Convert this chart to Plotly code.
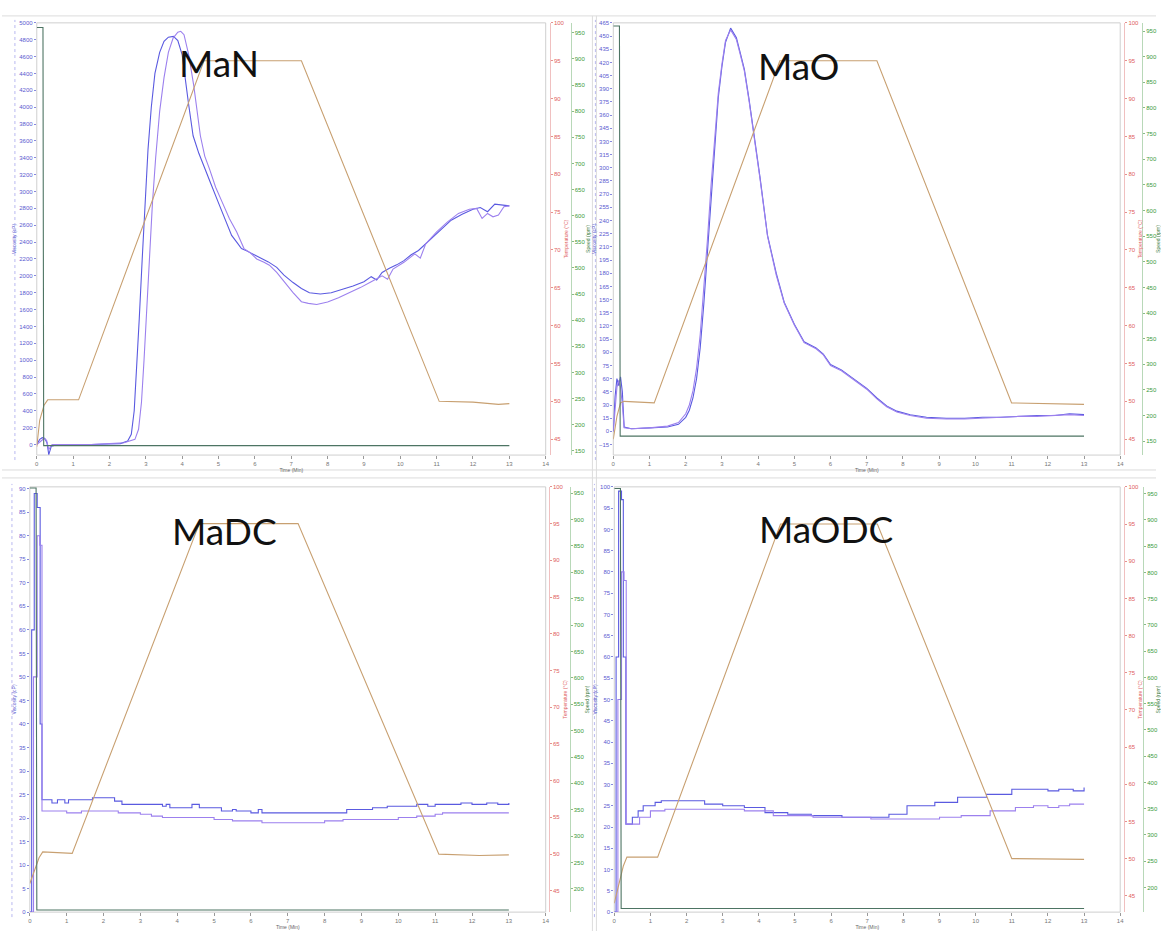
import plotly.graph_objects as go

# ---------------------------------------------------------------- data
# Time axis ticks (min)
time_ticks = list(range(0, 15))

# MaN: two viscosity runs (cP), temperature (degC), paddle speed (rpm)
man_time_a = [0, 0.08, 0.15, 0.22, 0.28, 0.33, 0.4, 0.6, 1.5, 2.3, 2.5, 2.6, 2.68, 2.75, 2.82, 2.9,
              2.98, 3.06, 3.15, 3.25, 3.38, 3.5, 3.62, 3.76, 3.88, 4.0, 4.17, 4.3, 4.46, 4.62, 4.8,
              4.99, 5.18, 5.36, 5.5, 5.63, 5.8, 6.0, 6.2, 6.37, 6.6, 6.8, 7.05, 7.28, 7.5, 7.8, 8.1,
              8.4, 8.7, 9.0, 9.2, 9.35, 9.5, 9.7, 9.9, 10.1, 10.3, 10.5, 10.8, 11.1, 11.4, 11.7,
              12.0, 12.2, 12.4, 12.6, 12.8, 13.0]
man_visc_a = [0, 60, 80, 70, 20, -120, -20, 0, 0, 10, 40, 120, 400, 900, 1500, 2200,
              2900, 3500, 4000, 4400, 4650, 4780, 4830, 4840, 4790, 4620, 4055, 3661, 3450, 3268, 3080,
              2874, 2680, 2480, 2400, 2323, 2290, 2244, 2200, 2165, 2100, 2008, 1920, 1850, 1800, 1785, 1800,
              1840, 1880, 1930, 1990, 1950, 2040, 2090, 2130, 2180, 2250, 2300, 2420, 2540, 2660, 2730,
              2790, 2810, 2760, 2850, 2840, 2830]
man_time_b = [0, 0.1, 0.2, 0.27, 0.33, 0.42, 0.6, 1.5, 2.4, 2.7, 2.8, 2.88, 2.95, 3.02, 3.1, 3.18,
              3.27, 3.38, 3.5, 3.62, 3.75, 3.88, 3.96, 4.05, 4.18, 4.32, 4.5, 4.62, 4.75, 4.92, 5.1,
              5.3, 5.5, 5.7, 5.88, 6.05, 6.25, 6.4, 6.6, 6.8, 7.05, 7.28, 7.47, 7.7, 8.0, 8.3, 8.6,
              8.9, 9.2, 9.5, 9.65, 9.8, 10.1, 10.4, 10.55, 10.7, 11.0, 11.3, 11.6, 11.9, 12.1, 12.25,
              12.4, 12.55, 12.7, 12.85, 13.0]
man_visc_b = [0, 40, 70, 50, -60, 0, 0, 0, 20, 60, 180, 500, 1000, 1600, 2250, 2850,
              3400, 3950, 4350, 4650, 4820, 4890, 4900, 4860, 4620, 4250, 3661, 3420, 3268, 3050, 2874,
              2677, 2520, 2323, 2270, 2200, 2160, 2126, 2040, 1929, 1800, 1693, 1673, 1660, 1690, 1740, 1800,
              1860, 1930, 2000, 1960, 2080, 2160, 2260, 2210, 2380, 2520, 2640, 2740, 2790, 2800, 2680,
              2740, 2700, 2720, 2820, 2830]
man_temp_time = [0, 0.08, 0.2, 0.3, 1.15, 4.6, 7.28, 11.07, 12.0, 12.7, 13.0]
man_temp = [44, 47.5, 49.5, 50.2, 50.2, 95, 95, 50, 49.9, 49.6, 49.7]

# MaO
mao_time = [0, 0.05, 0.1, 0.15, 0.2, 0.25, 0.3, 0.5, 1.0, 1.5, 1.8, 2.0, 2.1, 2.2, 2.3, 2.4, 2.5,
            2.6, 2.7, 2.8, 2.9, 3.0, 3.1, 3.24, 3.4, 3.5, 3.62, 3.75, 3.9, 4.05, 4.26, 4.5, 4.72,
            5.0, 5.27, 5.6, 5.8, 6.0, 6.3, 6.65, 7.0, 7.28, 7.55, 7.83, 8.2, 8.65, 9.2, 9.7, 10.2,
            10.7, 11.2, 11.7, 12.2, 12.6, 13.0]
mao_visc_a = [0, 40, 60, 52, 62, 45, 5, 3, 4, 5, 8, 16, 24, 38, 60, 95, 145,
              205, 270, 330, 380, 415, 443, 459, 448, 432, 412, 378, 336, 290, 223, 180, 147,
              122, 102, 95, 88, 76, 70, 60, 49, 38, 29, 23, 19, 16, 15, 15, 16,
              16, 17, 18, 18, 20, 19]
mao_visc_b = [0, 30, 50, 58, 50, 30, 4, 3, 4, 6, 10, 20, 30, 46, 72, 110, 160,
              218, 280, 338, 385, 418, 445, 457, 446, 430, 410, 376, 334, 288, 222, 178, 146,
              121, 101, 94, 87, 75, 69, 59, 48, 37, 28, 22, 18, 15, 14, 14, 15,
              16, 17, 17, 18, 19, 18]
mao_temp_time = [0, 0.1, 0.2, 0.3, 1.13, 4.6, 7.28, 11.0, 13.0]
mao_temp = [45, 48, 49.8, 50, 49.8, 95, 95, 49.8, 49.6]

# MaDC (stepped readings)
madc_time_a = [0, 0.05, 0.12, 0.2, 0.28, 0.33, 0.6, 0.75, 0.95, 1.05, 1.7, 2.3, 2.5, 3.6, 3.7, 3.8,
               4.4, 4.6, 5.2, 5.5, 5.6, 6.0, 6.2, 6.3, 8.6, 9.3, 9.7, 10.5, 10.8, 11.0, 11.7, 12.0,
               12.4, 12.7, 13.0]
madc_visc_a = [0, 60, 89, 86, 40, 23.9, 23.2, 23.9, 23.2, 23.9, 24.3, 23.6, 22.9, 22.5, 22.9, 22.2,
               22.9, 22.2, 21.5, 21.8, 21.5, 21.1, 21.8, 21.1, 21.8, 22.2, 22.5, 22.9, 22.5, 22.9, 23.2, 22.9,
               23.2, 22.9, 23.2]
madc_time_b = [0, 0.1, 0.2, 0.27, 0.33, 1.0, 1.4, 2.4, 3.0, 3.3, 3.6, 5.0, 5.5, 6.3, 8.0, 8.5,
               10.0, 10.5, 11.0, 11.2, 13.0]
madc_visc_b = [0, 50, 80, 78, 21.5, 21.1, 21.5, 21.1, 20.8, 20.4, 20.1, 19.7, 19.4, 19.0, 19.4, 19.7,
               20.1, 20.4, 20.8, 21.1, 21.1]
madc_temp_time = [0, 0.1, 0.25, 0.35, 1.15, 4.6, 7.28, 11.1, 12.2, 13.0]
madc_temp = [46, 47.5, 49.5, 50.3, 50.1, 95, 95, 50, 49.8, 49.9]

# MaODC (stepped readings)
maodc_time_a = [0, 0.05, 0.12, 0.2, 0.25, 0.32, 0.5, 0.66, 0.8, 1.13, 1.3, 2.5, 3.0, 3.6, 4.17, 4.8,
                5.45, 6.3, 7.6, 8.1, 8.87, 9.5, 10.3, 11.0, 12.0, 12.3, 12.7, 13.0]
maodc_visc_a = [0, 60, 99, 97, 60, 20.7, 22.3, 23.8, 25.0, 25.8, 26.2, 25.4, 25.0, 24.6, 23.4, 23.0,
                22.7, 22.3, 23.0, 25.0, 25.8, 27.0, 27.7, 28.9, 28.5, 28.9, 28.5, 29.3]
maodc_time_b = [0, 0.1, 0.2, 0.27, 0.33, 0.7, 1.0, 1.4, 3.6, 4.4, 5.5, 7.1, 9.0, 9.6, 10.4, 11.1,
                11.6, 12.0, 12.3, 12.6, 13.0]
maodc_visc_b = [0, 50, 80, 78, 20.7, 22.3, 23.8, 24.2, 23.8, 22.7, 22.3, 21.9, 22.3, 22.7, 23.8, 24.6,
                25.0, 24.6, 25.0, 25.4, 25.4]
maodc_temp_time = [0, 0.1, 0.25, 0.35, 1.2, 4.6, 7.28, 11.0, 13.0]
maodc_temp = [44, 46, 49, 50.2, 50.2, 95, 95, 50, 49.9]

# Paddle speed profile shared by all runs
speed_time = [0, 0.17, 0.19, 13.0]
speed_rpm = [960, 960, 160, 160]

# ---------------------------------------------------------------- styling
W, H = 1161, 934
BLUE, PURPLE = "#5a5ae0", "#9c80ee"
TEMP_C, SPEED_C = "#c8a071", "#4d7463"
TICK_FONT = dict(family="Arial", size=6)

# plot-area rectangles in pixels: left, right, top, bottom
panels = [
    dict(name="MaN", box=(35, 547, 20, 455), red_x=551, green_x=572, blue_line=13,
         visc=[(man_time_a, man_visc_a), (man_time_b, man_visc_b)], shape="linear",
         temp=(man_temp_time, man_temp), vrange=[-126, 5000], vdtick=200, v0=0, v1=5000,
         trange=[42.9, 100], srange=[142, 969], s0=150, label=(218, 60)),
    dict(name="MaO", box=(615, 1125, 20, 455), red_x=1129, green_x=1147, blue_line=597,
         visc=[(mao_time, mao_visc_a), (mao_time, mao_visc_b)], shape="linear",
         temp=(mao_temp_time, mao_temp), vrange=[-27, 465], vdtick=15, v0=-15, v1=465,
         trange=[42.9, 100], srange=[123, 966], s0=150, label=(801, 63)),
    dict(name="MaDC", box=(28, 547, 487, 915), red_x=550, green_x=571, blue_line=10,
         visc=[(madc_time_a, madc_visc_a), (madc_time_b, madc_visc_b)], shape="hv",
         temp=(madc_temp_time, madc_temp), vrange=[0, 90.4], vdtick=5, v0=0, v1=90,
         trange=[42.1, 100], srange=[156, 962], s0=200, label=(224, 531)),
    dict(name="MaODC", box=(616, 1125, 487, 915), red_x=1129, green_x=1148, blue_line=596,
         visc=[(maodc_time_a, maodc_visc_a), (maodc_time_b, maodc_visc_b)], shape="hv",
         temp=(maodc_temp_time, maodc_temp), vrange=[0, 100], vdtick=5, v0=0, v1=100,
         trange=[42.8, 100], srange=[153, 963], s0=200, label=(829, 529)),
]

fig = go.Figure()
layout = {}
shapes = []
annotations = []

for k, p in enumerate(panels, start=1):
    xl, xr, yt, yb = p["box"]
    xid = "x" if k == 1 else f"x{k}"
    yb_id, yr_id, yg_id = (3 * k - 2), (3 * k - 1), 3 * k
    yb_name = "y" if yb_id == 1 else f"y{yb_id}"
    yr_name, yg_name = f"y{yr_id}", f"y{yg_id}"
    xkey = "xaxis" if k == 1 else f"xaxis{k}"
    ybkey = "yaxis" if yb_id == 1 else f"yaxis{yb_id}"

    layout[xkey] = dict(
        domain=[xl / W, xr / W], anchor=yb_name, range=[0, 14],
        tickmode="array", tickvals=time_ticks, ticks="outside", ticklen=3,
        tickcolor="#999", tickfont=dict(TICK_FONT, color="#777"),
        showgrid=False, zeroline=False, showline=False,
        title=dict(text="Time (Min)", font=dict(family="Arial", size=5, color="#666"), standoff=2),
    )
    layout[ybkey] = dict(
        domain=[1 - yb / H, 1 - yt / H], anchor=xid, range=p["vrange"],
        tickmode="linear", tick0=p["v0"], dtick=p["vdtick"], ticks="outside", ticklen=2,
        tickcolor="#8888dd", tickfont=dict(TICK_FONT, color="#5a5ad0"),
        showgrid=False, zeroline=False, showline=False,
        title=dict(text="Viscosity (cP)", font=dict(family="Arial", size=5, color="#5a5ad0"), standoff=2),
    )
    layout[f"yaxis{yr_id}"] = dict(
        overlaying=yb_name, anchor="free", position=p["red_x"] / W, side="right",
        range=p["trange"], tickmode="linear", tick0=45, dtick=5,
        ticks="outside", ticklen=2, tickcolor="#e59090",
        tickfont=dict(TICK_FONT, color="#e06060"), showgrid=False, zeroline=False,
        showline=True, linecolor="#f0c0c0", linewidth=1,
        title=dict(text="Temperature (°C)", font=dict(family="Arial", size=5, color="#e06060"), standoff=0),
    )
    layout[f"yaxis{yg_id}"] = dict(
        overlaying=yb_name, anchor="free", position=p["green_x"] / W, side="right",
        range=p["srange"], tickmode="linear", tick0=p["s0"], dtick=50,
        ticks="outside", ticklen=2, tickcolor="#88bb88",
        tickfont=dict(TICK_FONT, color="#3a9a3a"), showgrid=False, zeroline=False,
        showline=True, linecolor="#b8d8b8", linewidth=1,
        title=dict(text="Speed (rpm)", font=dict(family="Arial", size=5, color="#3a7a3a"), standoff=0),
    )

    # speed trace (drawn first, underneath)
    fig.add_trace(go.Scatter(x=speed_time, y=speed_rpm, xaxis=xid, yaxis=yg_name, mode="lines",
                             line=dict(color=SPEED_C, width=1.1)))
    # temperature profile
    tt, tv = p["temp"]
    fig.add_trace(go.Scatter(x=tt, y=tv, xaxis=xid, yaxis=yr_name, mode="lines",
                             line=dict(color=TEMP_C, width=1.1)))
    # viscosity runs
    for (vt, vv), col in zip(p["visc"], [BLUE, PURPLE]):
        fig.add_trace(go.Scatter(x=vt, y=vv, xaxis=xid, yaxis=yb_name, mode="lines",
                                 line=dict(color=col, width=1.1, shape=p["shape"])))

    # plot frame
    shapes.append(dict(type="rect", xref="paper", yref="paper",
                       x0=xl / W, x1=xr / W, y0=1 - yb / H, y1=1 - yt / H,
                       line=dict(color="#cfcfcf", width=1), layer="below"))
    # dashed viscosity axis rule
    shapes.append(dict(type="line", xref="paper", yref="paper",
                       x0=p["blue_line"] / W, x1=p["blue_line"] / W,
                       y0=1 - (yb + 5) / H, y1=1 - (yt - 3) / H,
                       line=dict(color="#b8b8f0", width=1, dash="dot")))

    lx, ly = p["label"]
    annotations.append(dict(text=p["name"], x=lx / W, y=1 - ly / H, xref="paper", yref="paper",
                            showarrow=False, xanchor="center", yanchor="middle",
                            font=dict(family="Lato", size=37, color="#111")))

# panel separators
for x0, y0, x1, y1 in [(0, 13, W, 13), (0, 478, W, 478), (0, 470, W, 470),
                       (594, 13, 594, H), (598, 13, 598, H)]:
    shapes.append(dict(type="line", xref="paper", yref="paper",
                       x0=x0 / W, x1=x1 / W, y0=1 - y0 / H, y1=1 - y1 / H,
                       line=dict(color="#dcdcdc", width=1)))

fig.update_layout(
    width=W, height=H, margin=dict(l=0, r=0, t=0, b=0),
    paper_bgcolor="white", plot_bgcolor="white", showlegend=False,
    shapes=shapes, annotations=annotations, **layout,
)

fig.write_html("out.html")
